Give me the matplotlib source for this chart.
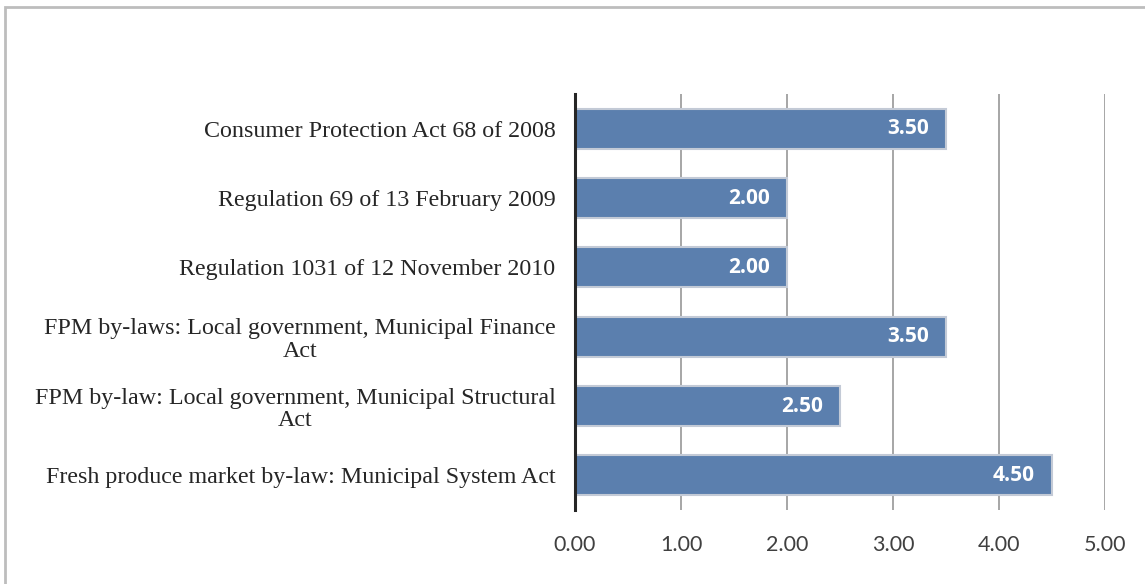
import matplotlib
matplotlib.use("Agg")
import matplotlib.pyplot as plt
from matplotlib.patches import Rectangle

categories = [
    "Consumer Protection Act 68 of 2008",
    "Regulation 69 of 13 February 2009",
    "Regulation 1031 of 12 November 2010",
    "FPM by-laws: Local government, Municipal Finance\nAct",
    "FPM by-law: Local government, Municipal Structural\nAct",
    "Fresh produce market by-law: Municipal System Act",
]
values = [3.50, 2.00, 2.00, 3.50, 2.50, 4.50]
xticks = [0, 1, 2, 3, 4, 5]

fig = plt.figure(figsize=(11.45, 5.84), dpi=100)
ax = fig.add_axes([575 / 1145, 1 - 510 / 584, 530 / 1145, (510 - 94) / 584])

ypos = list(range(len(categories)))
ax.barh(ypos, values, height=0.58, color="#5b7fae", edgecolor="#c3cad6",
        linewidth=1.5, zorder=3)
for y, v in zip(ypos, values):
    ax.text(v - 0.16, y, f"{v:.2f}", ha="right", va="center", color="white",
            fontsize=15, fontweight="bold", family="Open Sans", zorder=4)

ax.set_ylim(len(categories) - 0.5, -0.5)
ax.set_xlim(0, 5)
ax.set_xticks(xticks)
ax.set_xticklabels([f"{t:.2f}" for t in xticks], family="Lato", fontsize=15.5,
                   color="#404040")
ax.set_yticks(ypos)
ax.set_yticklabels(categories, family="Liberation Serif", fontsize=17.3,
                   color="#262626", multialignment="center", linespacing=1.12)
ax.tick_params(axis="y", length=0, pad=14)
ax.tick_params(axis="x", length=0, pad=18)
ax.grid(axis="x", color="#a6a6a6", linewidth=1.4, zorder=0)
for s in ["top", "right", "bottom"]:
    ax.spines[s].set_visible(False)
ax.spines["left"].set_color("#262626")
ax.spines["left"].set_linewidth(2.2)
ax.spines["left"].set_zorder(5)

fig.patches.append(Rectangle((5 / 1145, -0.05), 1.2, 1 - 7 / 584 + 0.05,
                             transform=fig.transFigure, fill=False,
                             edgecolor="#bdbdbd", linewidth=2))

fig.savefig("out.png", dpi=100)
